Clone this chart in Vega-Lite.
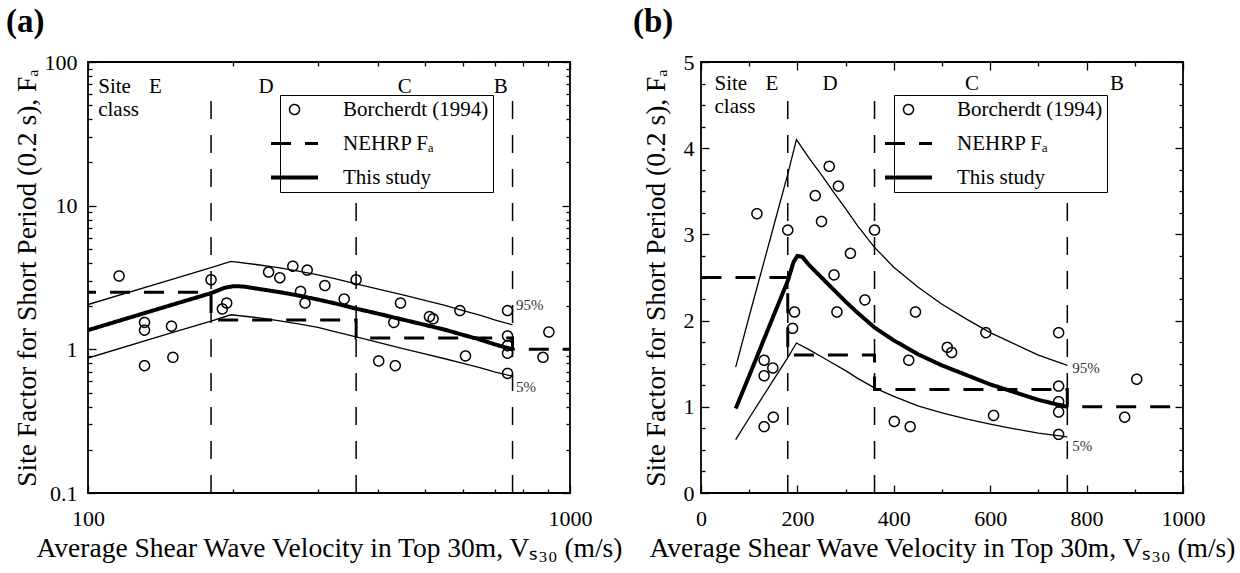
{
  "$schema": "https://vega.github.io/schema/vega-lite/v6.json",
  "background": "white",
  "padding": {"left": 5, "top": 5, "right": 5, "bottom": 5},
  "spacing": 131,
  "bounds": "flush",
  "datasets": {
    "pts": [
      {"v": 116, "F": 3.24, "s": "Borcherdt (1994)"},
      {"v": 180, "F": 3.05, "s": "Borcherdt (1994)"},
      {"v": 131, "F": 1.54, "s": "Borcherdt (1994)"},
      {"v": 131, "F": 1.36, "s": "Borcherdt (1994)"},
      {"v": 149, "F": 1.45, "s": "Borcherdt (1994)"},
      {"v": 131, "F": 0.77, "s": "Borcherdt (1994)"},
      {"v": 150, "F": 0.88, "s": "Borcherdt (1994)"},
      {"v": 190, "F": 1.91, "s": "Borcherdt (1994)"},
      {"v": 194, "F": 2.10, "s": "Borcherdt (1994)"},
      {"v": 237, "F": 3.45, "s": "Borcherdt (1994)"},
      {"v": 250, "F": 3.15, "s": "Borcherdt (1994)"},
      {"v": 266, "F": 3.79, "s": "Borcherdt (1994)"},
      {"v": 285, "F": 3.56, "s": "Borcherdt (1994)"},
      {"v": 276, "F": 2.53, "s": "Borcherdt (1994)"},
      {"v": 282, "F": 2.10, "s": "Borcherdt (1994)"},
      {"v": 310, "F": 2.78, "s": "Borcherdt (1994)"},
      {"v": 340, "F": 2.24, "s": "Borcherdt (1994)"},
      {"v": 360, "F": 3.05, "s": "Borcherdt (1994)"},
      {"v": 401, "F": 0.83, "s": "Borcherdt (1994)"},
      {"v": 431, "F": 1.54, "s": "Borcherdt (1994)"},
      {"v": 434, "F": 0.77, "s": "Borcherdt (1994)"},
      {"v": 445, "F": 2.10, "s": "Borcherdt (1994)"},
      {"v": 511, "F": 1.69, "s": "Borcherdt (1994)"},
      {"v": 520, "F": 1.63, "s": "Borcherdt (1994)"},
      {"v": 591, "F": 1.86, "s": "Borcherdt (1994)"},
      {"v": 607, "F": 0.90, "s": "Borcherdt (1994)"},
      {"v": 742, "F": 1.86, "s": "Borcherdt (1994)"},
      {"v": 742, "F": 1.24, "s": "Borcherdt (1994)"},
      {"v": 742, "F": 1.06, "s": "Borcherdt (1994)"},
      {"v": 742, "F": 0.94, "s": "Borcherdt (1994)"},
      {"v": 742, "F": 0.68, "s": "Borcherdt (1994)"},
      {"v": 904, "F": 1.32, "s": "Borcherdt (1994)"},
      {"v": 879, "F": 0.88, "s": "Borcherdt (1994)"}
    ],
    "nehrp": [
      {"v": 1, "F": 2.5, "s": "NEHRP Fₐ"},
      {"v": 180, "F": 1.6, "s": "NEHRP Fₐ"},
      {"v": 360, "F": 1.2, "s": "NEHRP Fₐ"},
      {"v": 760, "F": 1.0, "s": "NEHRP Fₐ"},
      {"v": 1000, "F": 1.0, "s": "NEHRP Fₐ"}
    ],
    "study": [
      {"v": 72, "F": 0.98, "s": "This study"},
      {"v": 100, "F": 1.36, "s": "This study"},
      {"v": 150, "F": 2.05, "s": "This study"},
      {"v": 180, "F": 2.46, "s": "This study"},
      {"v": 192, "F": 2.68, "s": "This study"},
      {"v": 200, "F": 2.75, "s": "This study"},
      {"v": 210, "F": 2.74, "s": "This study"},
      {"v": 225, "F": 2.64, "s": "This study"},
      {"v": 250, "F": 2.50, "s": "This study"},
      {"v": 275, "F": 2.36, "s": "This study"},
      {"v": 300, "F": 2.22, "s": "This study"},
      {"v": 325, "F": 2.09, "s": "This study"},
      {"v": 360, "F": 1.92, "s": "This study"},
      {"v": 400, "F": 1.77, "s": "This study"},
      {"v": 450, "F": 1.61, "s": "This study"},
      {"v": 500, "F": 1.48, "s": "This study"},
      {"v": 550, "F": 1.37, "s": "This study"},
      {"v": 600, "F": 1.26, "s": "This study"},
      {"v": 650, "F": 1.17, "s": "This study"},
      {"v": 700, "F": 1.08, "s": "This study"},
      {"v": 760, "F": 1.00, "s": "This study"}
    ],
    "bands": [
      {"v": 72, "F": 1.46, "b": "95%"},
      {"v": 100, "F": 2.05, "b": "95%"},
      {"v": 150, "F": 3.08, "b": "95%"},
      {"v": 180, "F": 3.70, "b": "95%"},
      {"v": 198, "F": 4.10, "b": "95%"},
      {"v": 225, "F": 3.88, "b": "95%"},
      {"v": 250, "F": 3.69, "b": "95%"},
      {"v": 275, "F": 3.49, "b": "95%"},
      {"v": 300, "F": 3.30, "b": "95%"},
      {"v": 325, "F": 3.10, "b": "95%"},
      {"v": 360, "F": 2.85, "b": "95%"},
      {"v": 400, "F": 2.62, "b": "95%"},
      {"v": 450, "F": 2.39, "b": "95%"},
      {"v": 500, "F": 2.19, "b": "95%"},
      {"v": 550, "F": 2.02, "b": "95%"},
      {"v": 600, "F": 1.86, "b": "95%"},
      {"v": 650, "F": 1.73, "b": "95%"},
      {"v": 700, "F": 1.60, "b": "95%"},
      {"v": 760, "F": 1.48, "b": "95%"},
      {"v": 72, "F": 0.62, "b": "5%"},
      {"v": 100, "F": 0.87, "b": "5%"},
      {"v": 150, "F": 1.31, "b": "5%"},
      {"v": 180, "F": 1.57, "b": "5%"},
      {"v": 198, "F": 1.74, "b": "5%"},
      {"v": 225, "F": 1.66, "b": "5%"},
      {"v": 250, "F": 1.58, "b": "5%"},
      {"v": 275, "F": 1.50, "b": "5%"},
      {"v": 300, "F": 1.42, "b": "5%"},
      {"v": 325, "F": 1.33, "b": "5%"},
      {"v": 360, "F": 1.22, "b": "5%"},
      {"v": 400, "F": 1.12, "b": "5%"},
      {"v": 450, "F": 1.01, "b": "5%"},
      {"v": 500, "F": 0.93, "b": "5%"},
      {"v": 550, "F": 0.86, "b": "5%"},
      {"v": 600, "F": 0.80, "b": "5%"},
      {"v": 650, "F": 0.745, "b": "5%"},
      {"v": 700, "F": 0.695, "b": "5%"},
      {"v": 760, "F": 0.65, "b": "5%"}
    ],
    "bounds": [{"v": 180}, {"v": 360}, {"v": 760}],
    "site_a": [{"t": "Site", "v": 105, "F": 67.3}, {"t": "class", "v": 105, "F": 46.4}],
    "cls_a": [{"t": "E", "v": 138, "F": 67.3}, {"t": "D", "v": 234, "F": 67.3}, {"t": "C", "v": 454, "F": 67.3}, {"t": "B", "v": 718, "F": 67.3}],
    "site_b": [{"t": "Site", "v": 28, "F": 4.74}, {"t": "class", "v": 28, "F": 4.48}],
    "cls_b": [{"t": "E", "v": 147, "F": 4.74}, {"t": "D", "v": 268, "F": 4.74}, {"t": "C", "v": 562, "F": 4.74}, {"t": "B", "v": 863, "F": 4.74}],
    "pct_a": [{"t": "95%", "v": 773, "F": 2.04}, {"t": "5%", "v": 773, "F": 0.547}],
    "pct_b": [{"t": "95%", "v": 770, "F": 1.45}, {"t": "5%", "v": 770, "F": 0.55}]
  },
  "hconcat": [
    {
      "width": 482,
      "height": 431,
      "title": {"text": "(a)", "anchor": "start", "fontSize": 33, "fontWeight": "bold", "font": "Liberation Serif", "color": "black", "offset": 12, "dx": -7},
      "resolve": {"axis": {"x": "independent", "y": "independent"}},
      "layer": [
        {
          "data": {"name": "bounds"},
          "mark": {"type": "rule", "strokeDash": [18, 16], "strokeWidth": 1.5, "color": "black"},
          "encoding": {
            "x": {"field": "v", "type": "quantitative", "scale": {"type": "log", "domain": [100, 1000], "nice": false},
                  "axis": {"orient": "bottom", "values": [100, 1000], "format": "~g", "tickSize": -8, "labelPadding": 23, "title": "Average Shear Wave Velocity in Top 30m, Vₛ₃₀ (m/s)", "titlePadding": 5}},
            "y": {"datum": 0.1, "type": "quantitative", "scale": {"type": "log", "domain": [0.1, 100], "nice": false},
                  "axis": {"orient": "left", "values": [0.1, 1, 10, 100], "format": "~g", "tickSize": -8, "labelPadding": 19, "title": "Site Factor for Short Period (0.2 s), Fₐ", "titlePadding": 3}},
            "y2": {"datum": 63}
          }
        },
        {
          "data": {"name": "site_a"},
          "mark": {"type": "text", "align": "left", "baseline": "middle", "fontSize": 21, "font": "Liberation Serif", "color": "black"},
          "encoding": {
            "x": {"field": "v", "type": "quantitative", "scale": {"type": "log", "domain": [100, 1000], "nice": false},
                  "axis": {"orient": "top", "values": [100, 1000], "tickSize": -8, "labels": false, "title": null}},
            "y": {"field": "F", "type": "quantitative", "scale": {"type": "log", "domain": [0.1, 100], "nice": false},
                  "axis": {"orient": "right", "values": [0.1, 1, 10, 100], "tickSize": -8, "labels": false, "title": null}},
            "text": {"field": "t"}
          }
        },
        {
          "data": {"name": "cls_a"},
          "mark": {"type": "text", "align": "center", "baseline": "middle", "fontSize": 21, "font": "Liberation Serif", "color": "black"},
          "encoding": {
            "x": {"field": "v", "type": "quantitative", "scale": {"type": "log", "domain": [100, 1000], "nice": false},
                  "axis": {"orient": "bottom", "values": [200, 300, 400, 500, 600, 700, 800, 900], "tickSize": -4, "labels": false, "title": null}},
            "y": {"field": "F", "type": "quantitative", "scale": {"type": "log", "domain": [0.1, 100], "nice": false},
                  "axis": {"orient": "left", "values": [0.2, 0.3, 0.4, 0.5, 0.6, 0.7, 0.8, 0.9, 2, 3, 4, 5, 6, 7, 8, 9, 20, 30, 40, 50, 60, 70, 80, 90], "tickSize": -4, "labels": false, "title": null}},
            "text": {"field": "t"}
          }
        },
        {
          "data": {"name": "nehrp"},
          "mark": {"type": "line", "interpolate": "step-after", "clip": true, "color": "black"},
          "encoding": {
            "x": {"field": "v", "type": "quantitative", "scale": {"type": "log", "domain": [100, 1000], "nice": false},
                  "axis": {"orient": "top", "values": [200, 300, 400, 500, 600, 700, 800, 900], "tickSize": -4, "labels": false, "title": null}},
            "y": {"field": "F", "type": "quantitative", "scale": {"type": "log", "domain": [0.1, 100], "nice": false},
                  "axis": {"orient": "right", "values": [0.2, 0.3, 0.4, 0.5, 0.6, 0.7, 0.8, 0.9, 2, 3, 4, 5, 6, 7, 8, 9, 20, 30, 40, 50, 60, 70, 80, 90], "tickSize": -4, "labels": false, "title": null}},
            "strokeDash": {"field": "s", "type": "nominal", "scale": {"domain": ["Borcherdt (1994)", "NEHRP Fₐ", "This study"], "range": [[1, 0], [20, 14], [1, 0]]}, "legend": {"orient": "none", "legendX": 192, "legendY": 33, "title": null}},
            "strokeWidth": {"field": "s", "type": "nominal", "scale": {"type": "ordinal", "domain": ["Borcherdt (1994)", "NEHRP Fₐ", "This study"], "range": [1.5, 3, 4]}, "legend": {"orient": "none", "legendX": 192, "legendY": 33, "title": null}}
          }
        },
        {
          "data": {"name": "bands"},
          "mark": {"type": "line", "clip": true, "color": "black", "strokeWidth": 1.3},
          "encoding": {
            "x": {"field": "v", "type": "quantitative", "scale": {"type": "log", "domain": [100, 1000], "nice": false}, "axis": null},
            "y": {"field": "F", "type": "quantitative", "scale": {"type": "log", "domain": [0.1, 100], "nice": false}, "axis": null},
            "detail": {"field": "b"}
          }
        },
        {
          "data": {"name": "study"},
          "mark": {"type": "line", "clip": true, "color": "black"},
          "encoding": {
            "x": {"field": "v", "type": "quantitative", "scale": {"type": "log", "domain": [100, 1000], "nice": false}, "axis": null},
            "y": {"field": "F", "type": "quantitative", "scale": {"type": "log", "domain": [0.1, 100], "nice": false}, "axis": null},
            "strokeDash": {"field": "s", "type": "nominal", "scale": {"domain": ["Borcherdt (1994)", "NEHRP Fₐ", "This study"], "range": [[1, 0], [20, 14], [1, 0]]}, "legend": {"orient": "none", "legendX": 192, "legendY": 33, "title": null}},
            "strokeWidth": {"field": "s", "type": "nominal", "scale": {"type": "ordinal", "domain": ["Borcherdt (1994)", "NEHRP Fₐ", "This study"], "range": [1.5, 3, 4]}, "legend": {"orient": "none", "legendX": 192, "legendY": 33, "title": null}}
          }
        },
        {
          "data": {"name": "pts"},
          "mark": {"type": "point", "filled": false, "color": "black", "opacity": 1, "size": 100},
          "encoding": {
            "x": {"field": "v", "type": "quantitative", "scale": {"type": "log", "domain": [100, 1000], "nice": false}, "axis": null},
            "y": {"field": "F", "type": "quantitative", "scale": {"type": "log", "domain": [0.1, 100], "nice": false}, "axis": null},
            "shape": {"field": "s", "type": "nominal", "scale": {"domain": ["Borcherdt (1994)", "NEHRP Fₐ", "This study"], "range": ["M-4.7,0M4.7,0M1,0A1,1,0,1,1,-1,0A1,1,0,1,1,1,0Z", "M-4.7,0H4.7", "M-4.7,0H4.7"]}, "legend": {"orient": "none", "legendX": 192, "legendY": 33, "title": null}},
            "strokeDash": {"field": "s", "type": "nominal", "scale": {"domain": ["Borcherdt (1994)", "NEHRP Fₐ", "This study"], "range": [[1, 0], [20, 14], [1, 0]]}, "legend": {"orient": "none", "legendX": 192, "legendY": 33, "title": null}},
            "strokeWidth": {"field": "s", "type": "nominal", "scale": {"type": "ordinal", "domain": ["Borcherdt (1994)", "NEHRP Fₐ", "This study"], "range": [1.5, 3, 4]}, "legend": {"orient": "none", "legendX": 192, "legendY": 33, "title": null}}
          }
        },
        {
          "data": {"name": "pct_a"},
          "mark": {"type": "text", "align": "left", "baseline": "middle", "fontSize": 15, "font": "Liberation Serif", "color": "#333333"},
          "encoding": {
            "x": {"field": "v", "type": "quantitative", "scale": {"type": "log", "domain": [100, 1000], "nice": false}, "axis": null},
            "y": {"field": "F", "type": "quantitative", "scale": {"type": "log", "domain": [0.1, 100], "nice": false}, "axis": null},
            "text": {"field": "t"}
          }
        }
      ]
    },
    {
      "width": 482,
      "height": 431,
      "title": {"text": "(b)", "anchor": "start", "fontSize": 33, "fontWeight": "bold", "font": "Liberation Serif", "color": "black", "offset": 12, "dx": -9},
      "resolve": {"axis": {"x": "independent", "y": "independent"}},
      "layer": [
        {
          "data": {"name": "bounds"},
          "mark": {"type": "rule", "strokeDash": [18, 16], "strokeWidth": 1.5, "color": "black"},
          "encoding": {
            "x": {"field": "v", "type": "quantitative", "scale": {"domain": [0, 1000], "nice": false, "zero": false},
                  "axis": {"orient": "bottom", "values": [0, 200, 400, 600, 800, 1000], "format": "d", "tickSize": -8, "labelPadding": 23, "title": "Average Shear Wave Velocity in Top 30m, Vₛ₃₀ (m/s)", "titlePadding": 5}},
            "y": {"datum": 0, "type": "quantitative", "scale": {"domain": [0, 5], "nice": false},
                  "axis": {"orient": "left", "values": [0, 1, 2, 3, 4, 5], "format": "d", "tickSize": -8, "labelPadding": 15, "title": "Site Factor for Short Period (0.2 s), Fₐ", "titlePadding": 13}},
            "y2": {"datum": 4.64}
          }
        },
        {
          "data": {"name": "site_b"},
          "mark": {"type": "text", "align": "left", "baseline": "middle", "fontSize": 21, "font": "Liberation Serif", "color": "black"},
          "encoding": {
            "x": {"field": "v", "type": "quantitative", "scale": {"domain": [0, 1000], "nice": false, "zero": false},
                  "axis": {"orient": "top", "values": [0, 200, 400, 600, 800, 1000], "tickSize": -8, "labels": false, "title": null}},
            "y": {"field": "F", "type": "quantitative", "scale": {"domain": [0, 5], "nice": false},
                  "axis": {"orient": "right", "values": [0, 1, 2, 3, 4, 5], "tickSize": -8, "labels": false, "title": null}},
            "text": {"field": "t"}
          }
        },
        {
          "data": {"name": "cls_b"},
          "mark": {"type": "text", "align": "center", "baseline": "middle", "fontSize": 21, "font": "Liberation Serif", "color": "black"},
          "encoding": {
            "x": {"field": "v", "type": "quantitative", "scale": {"domain": [0, 1000], "nice": false, "zero": false},
                  "axis": {"orient": "bottom", "values": [100, 300, 500, 700, 900], "tickSize": -4, "labels": false, "title": null}},
            "y": {"field": "F", "type": "quantitative", "scale": {"domain": [0, 5], "nice": false},
                  "axis": {"orient": "left", "values": [0.25, 0.5, 0.75, 1.25, 1.5, 1.75, 2.25, 2.5, 2.75, 3.25, 3.5, 3.75, 4.25, 4.5, 4.75], "tickSize": -4, "labels": false, "title": null}},
            "text": {"field": "t"}
          }
        },
        {
          "data": {"name": "nehrp"},
          "mark": {"type": "line", "interpolate": "step-after", "clip": true, "color": "black"},
          "encoding": {
            "x": {"field": "v", "type": "quantitative", "scale": {"domain": [0, 1000], "nice": false, "zero": false},
                  "axis": {"orient": "top", "values": [100, 300, 500, 700, 900], "tickSize": -4, "labels": false, "title": null}},
            "y": {"field": "F", "type": "quantitative", "scale": {"domain": [0, 5], "nice": false},
                  "axis": {"orient": "right", "values": [0.25, 0.5, 0.75, 1.25, 1.5, 1.75, 2.25, 2.5, 2.75, 3.25, 3.5, 3.75, 4.25, 4.5, 4.75], "tickSize": -4, "labels": false, "title": null}},
            "strokeDash": {"field": "s", "type": "nominal", "scale": {"domain": ["Borcherdt (1994)", "NEHRP Fₐ", "This study"], "range": [[1, 0], [20, 14], [1, 0]]}, "legend": {"orient": "none", "legendX": 193, "legendY": 33, "title": null}},
            "strokeWidth": {"field": "s", "type": "nominal", "scale": {"type": "ordinal", "domain": ["Borcherdt (1994)", "NEHRP Fₐ", "This study"], "range": [1.5, 3, 4]}, "legend": {"orient": "none", "legendX": 193, "legendY": 33, "title": null}}
          }
        },
        {
          "data": {"name": "bands"},
          "mark": {"type": "line", "clip": true, "color": "black", "strokeWidth": 1.3},
          "encoding": {
            "x": {"field": "v", "type": "quantitative", "scale": {"domain": [0, 1000], "nice": false, "zero": false}, "axis": null},
            "y": {"field": "F", "type": "quantitative", "scale": {"domain": [0, 5], "nice": false}, "axis": null},
            "detail": {"field": "b"}
          }
        },
        {
          "data": {"name": "study"},
          "mark": {"type": "line", "clip": true, "color": "black"},
          "encoding": {
            "x": {"field": "v", "type": "quantitative", "scale": {"domain": [0, 1000], "nice": false, "zero": false}, "axis": null},
            "y": {"field": "F", "type": "quantitative", "scale": {"domain": [0, 5], "nice": false}, "axis": null},
            "strokeDash": {"field": "s", "type": "nominal", "scale": {"domain": ["Borcherdt (1994)", "NEHRP Fₐ", "This study"], "range": [[1, 0], [20, 14], [1, 0]]}, "legend": {"orient": "none", "legendX": 193, "legendY": 33, "title": null}},
            "strokeWidth": {"field": "s", "type": "nominal", "scale": {"type": "ordinal", "domain": ["Borcherdt (1994)", "NEHRP Fₐ", "This study"], "range": [1.5, 3, 4]}, "legend": {"orient": "none", "legendX": 193, "legendY": 33, "title": null}}
          }
        },
        {
          "data": {"name": "pts"},
          "mark": {"type": "point", "filled": false, "color": "black", "opacity": 1, "size": 100},
          "encoding": {
            "x": {"field": "v", "type": "quantitative", "scale": {"domain": [0, 1000], "nice": false, "zero": false}, "axis": null},
            "y": {"field": "F", "type": "quantitative", "scale": {"domain": [0, 5], "nice": false}, "axis": null},
            "shape": {"field": "s", "type": "nominal", "scale": {"domain": ["Borcherdt (1994)", "NEHRP Fₐ", "This study"], "range": ["M-4.7,0M4.7,0M1,0A1,1,0,1,1,-1,0A1,1,0,1,1,1,0Z", "M-4.7,0H4.7", "M-4.7,0H4.7"]}, "legend": {"orient": "none", "legendX": 193, "legendY": 33, "title": null}},
            "strokeDash": {"field": "s", "type": "nominal", "scale": {"domain": ["Borcherdt (1994)", "NEHRP Fₐ", "This study"], "range": [[1, 0], [20, 14], [1, 0]]}, "legend": {"orient": "none", "legendX": 193, "legendY": 33, "title": null}},
            "strokeWidth": {"field": "s", "type": "nominal", "scale": {"type": "ordinal", "domain": ["Borcherdt (1994)", "NEHRP Fₐ", "This study"], "range": [1.5, 3, 4]}, "legend": {"orient": "none", "legendX": 193, "legendY": 33, "title": null}}
          }
        },
        {
          "data": {"name": "pct_b"},
          "mark": {"type": "text", "align": "left", "baseline": "middle", "fontSize": 15, "font": "Liberation Serif", "color": "#333333"},
          "encoding": {
            "x": {"field": "v", "type": "quantitative", "scale": {"domain": [0, 1000], "nice": false, "zero": false}, "axis": null},
            "y": {"field": "F", "type": "quantitative", "scale": {"domain": [0, 5], "nice": false}, "axis": null},
            "text": {"field": "t"}
          }
        }
      ]
    }
  ],
  "resolve": {
    "scale": {"shape": "independent", "strokeDash": "independent", "strokeWidth": "independent"}
  },
  "config": {
    "view": {"stroke": "black", "strokeWidth": 1.8},
    "font": "Liberation Serif",
    "axis": {
      "grid": false,
      "domain": false,
      "labelFlush": false,
      "labelOverlap": false,
      "tickColor": "black",
      "tickWidth": 1.3,
      "labelFont": "Liberation Serif",
      "labelFontSize": 22,
      "labelColor": "black",
      "titleFont": "Liberation Serif",
      "titleFontSize": 27.5,
      "titleFontWeight": "normal",
      "titleColor": "black"
    },
    "legend": {
      "labelFont": "Liberation Serif",
      "labelFontSize": 21,
      "labelColor": "black",
      "labelOffset": 38,
      "strokeColor": "black",
      "fillColor": "white",
      "padding": 4,
      "rowPadding": 12,
      "symbolSize": 100,
      "symbolStrokeColor": "black",
      "symbolFillColor": "transparent"
    }
  }
}
